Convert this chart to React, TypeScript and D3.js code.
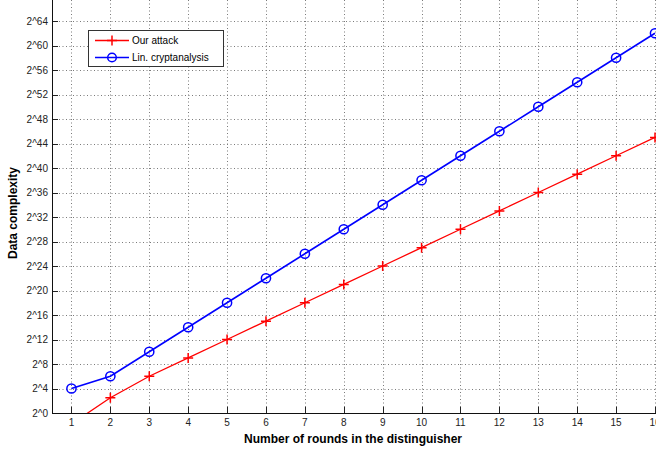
import { useEffect, useRef } from "react";
import * as d3 from "d3";

// rounds in the distinguisher
const rounds = [1, 2, 3, 4, 5, 6, 7, 8, 9, 10, 11, 12, 13, 14, 15, 16];
// log2 of data complexity
const ourAttack = [-1.8, 2.5, 6, 9, 12, 15, 18, 21, 24, 27, 30, 33, 36, 39, 42, 45];
const linCrypt = [4, 6, 10, 14, 18, 22, 26, 30, 34, 38, 42, 46, 50, 54, 58, 62];
const yTicks = d3.range(0, 65, 4);

const W = 656;
const H = 450;

export default function App() {
    const svgRef = useRef<SVGSVGElement>(null);

    useEffect(() => {
        if (!svgRef.current) return;
        const svg = d3.select(svgRef.current);
        svg.selectAll("*").remove();

        const left = 52;
        const bottom = 413;

        const x = d3.scaleLinear().domain([0.5, 16]).range([left, 655]);
        const y = d3.scaleLinear().domain([0, 64]).range([bottom, 21]);

        svg.append("rect").attr("width", W).attr("height", H).attr("fill", "#fff");

        svg.append("defs")
            .append("clipPath")
            .attr("id", "plot-clip")
            .append("rect")
            .attr("x", left)
            .attr("y", 0)
            .attr("width", W - left)
            .attr("height", bottom);

        // dotted grid
        const grid = svg.append("g").attr("stroke", "#7a7a7a").attr("stroke-width", 1).attr("stroke-dasharray", "1,2.5");
        grid.selectAll("line.gx")
            .data(rounds)
            .enter()
            .append("line")
            .attr("x1", (d) => Math.round(x(d)) + 0.5)
            .attr("x2", (d) => Math.round(x(d)) + 0.5)
            .attr("y1", 0)
            .attr("y2", bottom);
        grid.selectAll("line.gy")
            .data(yTicks)
            .enter()
            .append("line")
            .attr("x1", left)
            .attr("x2", W)
            .attr("y1", (d) => Math.round(y(d)) + 0.5)
            .attr("y2", (d) => Math.round(y(d)) + 0.5);

        // inward tick marks
        const ticks = svg.append("g").attr("stroke", "#222").attr("stroke-width", 1);
        ticks.selectAll("line.tx")
            .data(rounds)
            .enter()
            .append("line")
            .attr("x1", (d) => Math.round(x(d)) + 0.5)
            .attr("x2", (d) => Math.round(x(d)) + 0.5)
            .attr("y1", bottom)
            .attr("y2", bottom - 6);
        ticks.selectAll("line.ty")
            .data(yTicks)
            .enter()
            .append("line")
            .attr("x1", left)
            .attr("x2", left + 6)
            .attr("y1", (d) => Math.round(y(d)) + 0.5)
            .attr("y2", (d) => Math.round(y(d)) + 0.5);

        // series
        const plot = svg.append("g").attr("clip-path", "url(#plot-clip)");
        const line = d3
            .line<number>()
            .x((_, i) => x(rounds[i]))
            .y((d) => y(d));

        plot.append("path")
            .datum(ourAttack)
            .attr("fill", "none")
            .attr("stroke", "#ff0000")
            .attr("stroke-width", 1.3)
            .attr("d", line);
        plot.append("path")
            .datum(linCrypt)
            .attr("fill", "none")
            .attr("stroke", "#0000ff")
            .attr("stroke-width", 1.6)
            .attr("d", line);

        const pm = 5;
        plot.selectAll("path.plus")
            .data(ourAttack)
            .enter()
            .append("path")
            .attr("fill", "none")
            .attr("stroke", "#ff0000")
            .attr("stroke-width", 1.5)
            .attr("d", (d, i) => {
                const cx = x(rounds[i]);
                const cy = y(d);
                return `M${cx - pm},${cy}H${cx + pm}M${cx},${cy - pm}V${cy + pm}`;
            });
        plot.selectAll("circle.mk")
            .data(linCrypt)
            .enter()
            .append("circle")
            .attr("cx", (_, i) => x(rounds[i]))
            .attr("cy", (d) => y(d))
            .attr("r", 4.6)
            .attr("fill", "none")
            .attr("stroke", "#0000ff")
            .attr("stroke-width", 1.5);

        // axes lines
        svg.append("line")
            .attr("x1", left + 0.5)
            .attr("x2", left + 0.5)
            .attr("y1", 0)
            .attr("y2", bottom + 0.5)
            .attr("stroke", "#111");
        svg.append("line")
            .attr("x1", left)
            .attr("x2", W)
            .attr("y1", bottom + 0.5)
            .attr("y2", bottom + 0.5)
            .attr("stroke", "#111");

        const font = "'Liberation Sans', Arial, sans-serif";

        // tick labels
        svg.append("g")
            .selectAll("text")
            .data(rounds)
            .enter()
            .append("text")
            .attr("x", (d) => x(d))
            .attr("y", 426)
            .attr("text-anchor", "middle")
            .attr("font-family", font)
            .attr("font-size", 10)
            .attr("fill", "#222")
            .text((d) => String(d));
        svg.append("g")
            .selectAll("text")
            .data(yTicks)
            .enter()
            .append("text")
            .attr("x", 48)
            .attr("y", (d) => y(d) + 3.5)
            .attr("text-anchor", "end")
            .attr("font-family", font)
            .attr("font-size", 10)
            .attr("fill", "#222")
            .text((d) => `2^${d}`);

        // axis titles
        svg.append("text")
            .attr("x", 353)
            .attr("y", 443)
            .attr("text-anchor", "middle")
            .attr("font-family", font)
            .attr("font-size", 12)
            .attr("font-weight", "bold")
            .attr("fill", "#000")
            .text("Number of rounds in the distinguisher");
        svg.append("text")
            .attr("transform", "translate(17,213) rotate(-90)")
            .attr("text-anchor", "middle")
            .attr("font-family", font)
            .attr("font-size", 12)
            .attr("font-weight", "bold")
            .attr("fill", "#000")
            .text("Data complexity");

        // legend
        const lg = svg.append("g");
        lg.append("rect")
            .attr("x", 88.5)
            .attr("y", 30.5)
            .attr("width", 135)
            .attr("height", 36)
            .attr("fill", "#fff")
            .attr("stroke", "#333");
        const items = [
            { label: "Our attack", color: "#ff0000", mark: "plus" },
            { label: "Lin. cryptanalysis", color: "#0000ff", mark: "circle" },
        ];
        items.forEach((it, i) => {
            const ly = 40.5 + i * 17;
            lg.append("line")
                .attr("x1", 95)
                .attr("x2", 129)
                .attr("y1", ly)
                .attr("y2", ly)
                .attr("stroke", it.color)
                .attr("stroke-width", 1.5);
            if (it.mark === "plus") {
                lg.append("path")
                    .attr("d", `M${112 - pm},${ly}H${112 + pm}M112,${ly - pm}V${ly + pm}`)
                    .attr("stroke", it.color)
                    .attr("stroke-width", 1.5);
            } else {
                lg.append("circle")
                    .attr("cx", 112)
                    .attr("cy", ly)
                    .attr("r", 4.3)
                    .attr("fill", "none")
                    .attr("stroke", it.color)
                    .attr("stroke-width", 1.5);
            }
            lg.append("text")
                .attr("x", 132)
                .attr("y", ly + 3.5)
                .attr("font-family", font)
                .attr("font-size", 10)
                .attr("fill", "#000")
                .text(it.label);
        });
    }, []);

    return (
        <svg
            ref={svgRef}
            width={W}
            height={H}
            style={{ position: "absolute", left: 0, top: 0, display: "block" }}
        />
    );
}
